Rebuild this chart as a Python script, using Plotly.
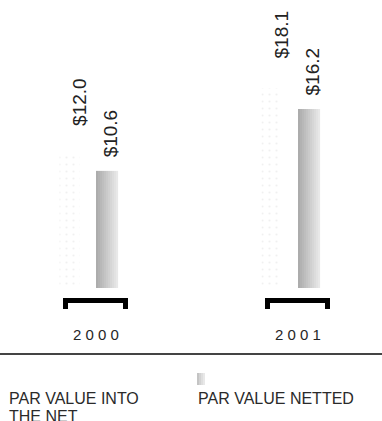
import plotly.graph_objects as go

# Data
years = ["2000", "2001"]
into_net = [12.0, 18.1]        # Par value into the net ($B)
netted = [10.6, 16.2]          # Par value netted ($B)
value_labels_into = ["$12.0", "$18.1"]
value_labels_netted = ["$10.6", "$16.2"]
legend_names = ["PAR VALUE INTO", "THE NET", "PAR VALUE NETTED"]

W, H = 382, 421
PX_PER_CAT = 202.0      # horizontal pixels per category step
CAT0_PX = 95.5          # pixel position of first category centre
PX_PER_UNIT = 11.05     # vertical pixels per dollar
BASE_PX = 288.0         # pixel row of zero

def dx(px):
    """pixel offset -> category units"""
    return px / PX_PER_CAT

def py(px):
    """pixel row -> paper y"""
    return 1 - px / H

fig = go.Figure()

# Faint speckled bars for par value into the net
fig.add_trace(go.Bar(
    x=years, y=into_net, offset=dx(-36), width=dx(20),
    marker=dict(color="rgba(255,255,255,0)", line=dict(width=0),
                pattern=dict(shape=".", fgcolor="#e2e2e2", bgcolor="rgba(255,255,255,0)",
                             size=7, solidity=0.08)),
    hoverinfo="skip", showlegend=False))

# Horizontally shaded bars for par value netted, built from thin strips
n_strips = 11
start, end = (172, 172, 172), (232, 232, 232)
strip_w = dx(22) / n_strips
for i in range(n_strips):
    t = i / (n_strips - 1)
    c = tuple(int(round(s + (e - s) * t)) for s, e in zip(start, end))
    fig.add_trace(go.Bar(
        x=years, y=netted, offset=dx(0.5) + i * strip_w, width=strip_w * 1.05,
        marker=dict(color="rgb(%d,%d,%d)" % c, line=dict(width=0)),
        hoverinfo="skip", showlegend=False))

annotations = []
label_font = dict(family="Liberation Sans, Arial, sans-serif", size=19, color="#222222")
for i in range(len(years)):
    annotations.append(dict(
        x=i + dx(-16), y=into_net[i], xref="x", yref="y", text=value_labels_into[i],
        textangle=-90, showarrow=False, xanchor="center", yanchor="bottom",
        yshift=27, font=label_font))
    annotations.append(dict(
        x=i + dx(15), y=netted[i], xref="x", yref="y", text=value_labels_netted[i],
        textangle=-90, showarrow=False, xanchor="center", yanchor="bottom",
        yshift=11, font=label_font))
    # spaced year label under each bracket
    annotations.append(dict(
        x=i, y=py(334), xref="x", yref="paper", text=" ".join(years[i]),
        showarrow=False, xanchor="center", yanchor="middle",
        font=dict(family="Liberation Sans, Arial, sans-serif", size=15, color="#262626")))

legend_font = dict(family="Liberation Sans, Arial, sans-serif", size=16, color="#2a2a2a")
annotations += [
    dict(x=7 / W, y=py(398), xref="paper", yref="paper", text=legend_names[0],
         showarrow=False, xanchor="left", yanchor="middle", font=legend_font),
    dict(x=7 / W, y=py(416), xref="paper", yref="paper", text=legend_names[1],
         showarrow=False, xanchor="left", yanchor="middle", font=legend_font),
    dict(x=196 / W, y=py(398), xref="paper", yref="paper", text=legend_names[2],
         showarrow=False, xanchor="left", yanchor="middle", font=legend_font),
]

shapes = []
for i in range(len(years)):
    # bracket under each year group
    common = dict(type="rect", xref="x", yref="paper", line=dict(width=0), fillcolor="#000000")
    shapes.append(dict(x0=i + dx(-32.5), x1=i + dx(32.5), y0=py(303), y1=py(298), **common))
    shapes.append(dict(x0=i + dx(-32.5), x1=i + dx(-27.5), y0=py(309), y1=py(298), **common))
    shapes.append(dict(x0=i + dx(27.5), x1=i + dx(32.5), y0=py(309), y1=py(298), **common))

# divider rule
shapes.append(dict(type="line", xref="paper", yref="paper", x0=0, x1=1,
                   y0=py(354), y1=py(354), line=dict(color="#444444", width=2)))

# legend swatch for the netted series (small shaded box)
sw_cols = ["#c4c4c4", "#d2d2d2", "#dedede", "#e8e8e8"]
for k, col in enumerate(sw_cols):
    shapes.append(dict(type="rect", xref="paper", yref="paper",
                       x0=(197 + 2 * k) / W, x1=(199 + 2 * k) / W,
                       y0=py(385), y1=py(373), line=dict(width=0), fillcolor=col))

x_lo = -CAT0_PX / PX_PER_CAT
x_hi = (W - CAT0_PX) / PX_PER_CAT
y_lo = -(H - BASE_PX) / PX_PER_UNIT
y_hi = BASE_PX / PX_PER_UNIT

fig.update_layout(
    width=W, height=H,
    margin=dict(l=0, r=0, t=0, b=0),
    paper_bgcolor="white", plot_bgcolor="white",
    barmode="overlay",
    xaxis=dict(type="category", range=[x_lo, x_hi], visible=False, fixedrange=True),
    yaxis=dict(range=[y_lo, y_hi], visible=False, fixedrange=True),
    annotations=annotations,
    shapes=shapes,
    showlegend=False,
)

fig.write_html("out.html", config={"displayModeBar": False})
